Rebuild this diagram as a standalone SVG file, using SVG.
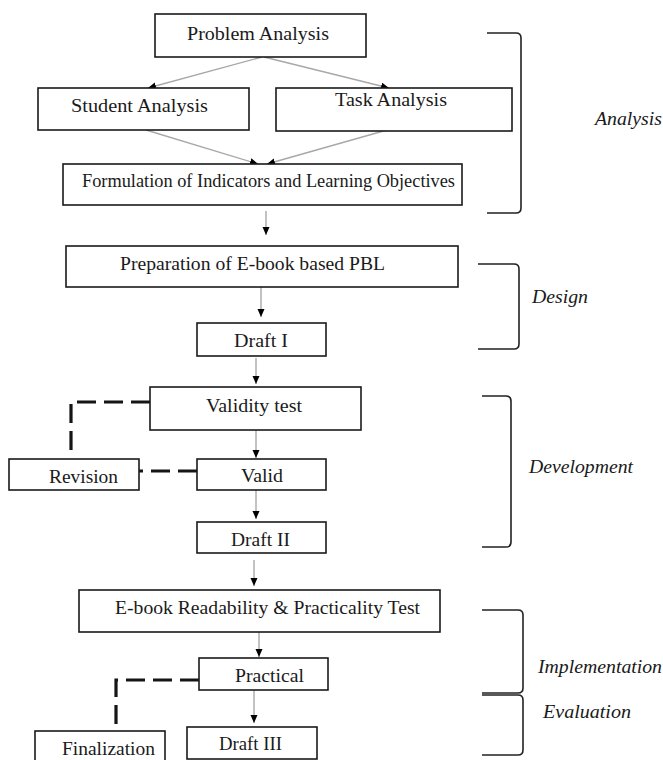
<svg xmlns="http://www.w3.org/2000/svg" width="663" height="760" viewBox="0 0 663 760">
<style>
.box{fill:#fff;stroke:#1a1a1a;stroke-width:1.6}
.t{font-family:"Liberation Serif","Times New Roman",serif;font-size:19px;fill:#1a1a1a}
.it{font-family:"Liberation Serif","Times New Roman",serif;font-size:19px;font-style:italic;fill:#1a1a1a}
.arr{fill:none;stroke:#a8a8a8;stroke-width:1.4;marker-end:url(#ah)}
.dash{fill:none;stroke:#151515;stroke-width:3.2;stroke-dasharray:19 8}
.br{fill:none;stroke:#222;stroke-width:1.6}
</style>
<defs>
<marker id="ah" markerUnits="userSpaceOnUse" markerWidth="9" markerHeight="8" refX="8" refY="3.5" orient="auto">
<path d="M0,0 L8,3.5 L0,7 Z" fill="#000"/>
</marker>
</defs>
<rect width="663" height="760" fill="#fff"/>
<g id="connectors">
<path class="arr" d="M262,57 L148,88"/>
<path class="arr" d="M264,57 L389,88"/>
<path class="arr" d="M146,130 L258,164"/>
<path class="arr" d="M387,130 L267,164"/>
<path class="arr" d="M266,211 L266,235"/>
<path class="arr" d="M261,287 L261,317"/>
<path class="arr" d="M256,358 L256,384"/>
<path class="arr" d="M256,430 L256,458"/>
<path class="arr" d="M256,490 L256,519"/>
<path class="arr" d="M254,560 L254,586"/>
<path class="arr" d="M259,632 L259,657"/>
<path class="arr" d="M254,690 L254,723"/>
<path class="dash" d="M150,402 L71,402 L71,454"/>
<path class="dash" d="M197,471 L138,471"/>
<path class="dash" d="M199,680 L116,680 L116,731"/>
</g>
<g id="problem-analysis"><rect class="box" x="155" y="14" width="211" height="43"/><text class="t" x="187" y="40" textLength="142" lengthAdjust="spacingAndGlyphs">Problem Analysis</text></g>
<g id="student-analysis"><rect class="box" x="38" y="88" width="211" height="42"/><text class="t" x="71" y="112" textLength="137" lengthAdjust="spacingAndGlyphs">Student Analysis</text></g>
<g id="task-analysis"><rect class="box" x="276" y="88" width="236" height="43"/><text class="t" x="335" y="106" textLength="112" lengthAdjust="spacingAndGlyphs">Task Analysis</text></g>
<g id="formulation"><rect class="box" x="63" y="164" width="399" height="41"/><text class="t" x="82" y="187" textLength="373" lengthAdjust="spacingAndGlyphs">Formulation of Indicators  and Learning Objectives</text></g>
<g id="preparation"><rect class="box" x="66" y="246" width="392" height="41"/><text class="t" x="120" y="270" textLength="265" lengthAdjust="spacingAndGlyphs">Preparation of E-book based PBL</text></g>
<g id="draft-1"><rect class="box" x="197" y="323" width="129" height="33"/><text class="t" x="234" y="347" textLength="54" lengthAdjust="spacingAndGlyphs">Draft I</text></g>
<g id="validity-test"><rect class="box" x="150" y="387" width="211" height="43"/><text class="t" x="206" y="412" textLength="96" lengthAdjust="spacingAndGlyphs">Validity test</text></g>
<g id="revision"><rect class="box" x="9" y="459" width="130" height="31"/><text class="t" x="49" y="483" textLength="69" lengthAdjust="spacingAndGlyphs">Revision</text></g>
<g id="valid"><rect class="box" x="197" y="459" width="129" height="31"/><text class="t" x="241" y="482" textLength="42" lengthAdjust="spacingAndGlyphs">Valid</text></g>
<g id="draft-2"><rect class="box" x="197" y="522" width="129" height="31"/><text class="t" x="231" y="546" textLength="59" lengthAdjust="spacingAndGlyphs">Draft II</text></g>
<g id="readability-test"><rect class="box" x="79" y="590" width="361" height="42"/><text class="t" x="115" y="614" textLength="305" lengthAdjust="spacingAndGlyphs">E-book Readability &amp; Practicality Test</text></g>
<g id="practical"><rect class="box" x="199" y="658" width="129" height="32"/><text class="t" x="235" y="682" textLength="69" lengthAdjust="spacingAndGlyphs">Practical</text></g>
<g id="finalization"><rect class="box" x="35" y="731" width="130" height="40"/><text class="t" x="62" y="755" textLength="93" lengthAdjust="spacingAndGlyphs">Finalization</text></g>
<g id="draft-3"><rect class="box" x="187" y="727" width="130" height="32"/><text class="t" x="219" y="750" textLength="63" lengthAdjust="spacingAndGlyphs">Draft III</text></g>
<g id="phase-analysis"><path class="br" d="M487,33 H516 Q521,33 521,38 V208 Q521,213 516,213 H487"/><text class="it" x="595" y="125" textLength="67" lengthAdjust="spacingAndGlyphs">Analysis</text></g>
<g id="phase-design"><path class="br" d="M478,264 H514 Q519,264 519,269 V344 Q519,349 514,349 H478"/><text class="it" x="532" y="303" textLength="56" lengthAdjust="spacingAndGlyphs">Design</text></g>
<g id="phase-development"><path class="br" d="M482,396 H506 Q511,396 511,401 V542 Q511,547 506,547 H482"/><text class="it" x="529" y="473" textLength="104" lengthAdjust="spacingAndGlyphs">Development</text></g>
<g id="phase-implementation"><path class="br" d="M482,610 H518 Q523,610 523,615 V688 Q523,693 518,693 H482"/><text class="it" x="538" y="673" textLength="124" lengthAdjust="spacingAndGlyphs">Implementation</text></g>
<g id="phase-evaluation"><path class="br" d="M482,695 H518 Q523,695 523,700 V750 Q523,755 518,755 H482"/><text class="it" x="543" y="718" textLength="88" lengthAdjust="spacingAndGlyphs">Evaluation</text></g>
</svg>
